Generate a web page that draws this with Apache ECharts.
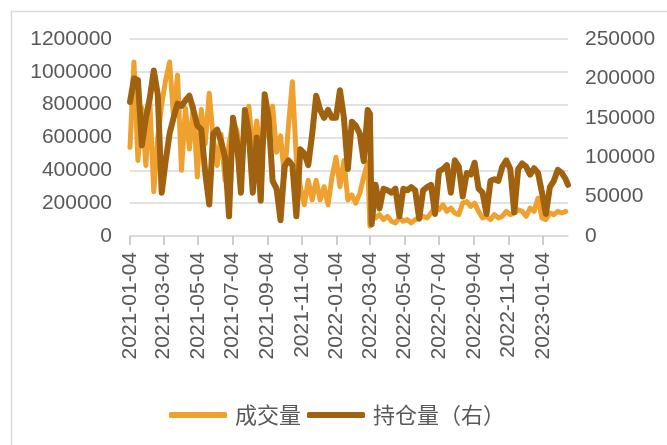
<!DOCTYPE html>
<html>
<head>
<meta charset="utf-8">
<script src="https://cdn.jsdelivr.net/npm/echarts@6/dist/echarts.min.js"></script>
<style>
html,body{margin:0;padding:0;background:#fff;}
#chart{width:667px;height:445px;}
</style>
</head>
<body>
<div id="chart"></div>
<script>
// Axis range and tick labels
const axisStart = '2021-01-04';
const axisEnd = '2023-02-17';
const tickLabels = ['2021-01-04','2021-03-04','2021-05-04','2021-07-04','2021-09-04','2021-11-04',
  '2022-01-04','2022-03-04','2022-05-04','2022-07-04','2022-09-04','2022-11-04','2023-01-04'];

// Sample dates
const sampleDates = [
 '2021-01-04','2021-01-11','2021-01-18','2021-01-25','2021-02-01','2021-02-08','2021-02-15','2021-02-22',
 '2021-03-01','2021-03-08','2021-03-15','2021-03-22','2021-03-29','2021-04-05','2021-04-12','2021-04-19',
 '2021-04-26','2021-05-03','2021-05-10','2021-05-17','2021-05-24','2021-05-31','2021-06-07','2021-06-14',
 '2021-06-21','2021-06-28','2021-07-05','2021-07-12','2021-07-19','2021-07-26','2021-08-02','2021-08-09',
 '2021-08-16','2021-08-23','2021-08-30','2021-09-06','2021-09-13','2021-09-20','2021-09-27','2021-10-04',
 '2021-10-11','2021-10-18','2021-10-25','2021-11-01','2021-11-08','2021-11-15','2021-11-22','2021-11-29',
 '2021-12-06','2021-12-13','2021-12-20','2021-12-27',
 '2022-01-03','2022-01-10','2022-01-17','2022-01-24','2022-01-31','2022-02-07','2022-02-14','2022-02-21',
 '2022-02-28','2022-03-04','2022-03-07','2022-03-14','2022-03-21','2022-03-28','2022-04-04','2022-04-11',
 '2022-04-18','2022-04-25','2022-05-02','2022-05-09','2022-05-16','2022-05-23','2022-05-30','2022-06-06',
 '2022-06-13','2022-06-20','2022-06-27','2022-07-04','2022-07-11','2022-07-18','2022-07-25','2022-08-01',
 '2022-08-08','2022-08-15','2022-08-22','2022-08-29','2022-09-05','2022-09-12','2022-09-19','2022-09-26',
 '2022-10-03','2022-10-10','2022-10-17','2022-10-24','2022-10-31','2022-11-07','2022-11-14','2022-11-21',
 '2022-11-28','2022-12-05','2022-12-12','2022-12-19','2022-12-26',
 '2023-01-02','2023-01-09','2023-01-16','2023-01-23','2023-01-30','2023-02-06','2023-02-13','2023-02-17'
];

// 成交量 (left axis)
const volume = [
 540000,1060000,460000,780000,430000,820000,270000,600000,
 800000,950000,1060000,720000,980000,400000,780000,530000,
 790000,360000,770000,560000,870000,600000,430000,620000,
 340000,560000,700000,640000,470000,620000,790000,520000,
 700000,490000,620000,680000,790000,510000,610000,360000,
 670000,940000,470000,300000,190000,340000,220000,340000,
 220000,300000,190000,360000,
 480000,300000,460000,220000,250000,200000,260000,360000,
 450000,60000,140000,110000,130000,100000,120000,90000,
 80000,110000,90000,100000,80000,100000,110000,120000,
 110000,140000,180000,160000,190000,150000,170000,140000,
 130000,200000,210000,180000,200000,150000,110000,120000,
 100000,130000,110000,120000,150000,130000,140000,160000,
 150000,120000,170000,150000,230000,
 110000,100000,140000,130000,150000,140000,150000
];

// 持仓量（右） (right axis)
const openInterest = [
 170000,200000,198000,115000,150000,175000,210000,180000,
 55000,95000,130000,150000,168000,165000,172000,178000,
 160000,140000,135000,80000,40000,130000,135000,120000,
 100000,25000,150000,120000,55000,160000,130000,55000,
 125000,45000,180000,150000,70000,60000,20000,88000,
 96000,90000,25000,110000,105000,90000,130000,178000,
 160000,150000,160000,150000,
 150000,185000,150000,85000,145000,140000,130000,95000,
 160000,155000,15000,65000,35000,60000,58000,55000,
 60000,25000,60000,58000,62000,58000,22000,58000,
 62000,65000,28000,82000,85000,90000,55000,96000,
 88000,50000,80000,78000,93000,60000,55000,28000,
 70000,72000,70000,88000,96000,85000,30000,85000,
 92000,88000,78000,86000,80000,
 55000,28000,62000,70000,84000,80000,72000,65000
];

// Calendar-day category axis
const allDays = [];
(function(){
  const d = new Date(axisStart + 'T00:00:00Z');
  const end = new Date(axisEnd + 'T00:00:00Z');
  while (d <= end) { allDays.push(d.toISOString().slice(0,10)); d.setUTCDate(d.getUTCDate()+1); }
})();
const dayIndex = {};
allDays.forEach((s,i)=>{dayIndex[s]=i;});
const pairs = arr => sampleDates.map((s,i)=>[dayIndex[s], arr[i]]);
const isTick = (idx, val) => tickLabels.indexOf(val) >= 0;

const textColor = '#595959';
const gridColor = '#d9d9d9';
const lightColor = '#EFA12F';
const darkColor = '#A0620E';
const plain = v => String(v);

const chart = echarts.init(document.getElementById('chart'));
chart.setOption({
  animation: false,
  backgroundColor: '#ffffff',
  graphic: [{
    type: 'rect', left: 9, top: 9, shape: {width: 700, height: 500},
    style: {fill: 'none', stroke: '#d9d9d9', lineWidth: 1.5}, silent: true, z: -1
  }],
  grid: {left: 130, right: 99, top: 39, bottom: 209, containLabel: false},
  legend: {
    left: 164, top: 399,
    itemWidth: 58, itemHeight: 6, itemGap: 6,
    icon: 'roundRect',
    textStyle: {fontFamily: 'Noto Sans CJK SC', fontSize: 22, color: textColor, padding: [0,0,0,3]},
    data: ['成交量', '持仓量（右）']
  },
  xAxis: {
    type: 'category', data: allDays, boundaryGap: false,
    axisLine: {lineStyle: {color: gridColor, width: 1.5}},
    axisTick: {show: true, interval: isTick, length: 9, lineStyle: {color: '#bfbfbf', width: 1.5}},
    axisLabel: {interval: isTick, rotate: 90, margin: 16, color: textColor,
      fontFamily: 'Liberation Sans', fontSize: 21},
    splitLine: {show: false}
  },
  yAxis: [{
    type: 'value', min: 0, max: 1200000, interval: 200000,
    axisLine: {show: false}, axisTick: {show: false},
    axisLabel: {color: textColor, fontFamily: 'Liberation Sans', fontSize: 21, margin: 18, formatter: plain},
    splitLine: {lineStyle: {color: gridColor, width: 1.5}}
  }, {
    type: 'value', min: 0, max: 250000, interval: 50000,
    axisLine: {show: false}, axisTick: {show: false},
    axisLabel: {color: textColor, fontFamily: 'Liberation Sans', fontSize: 21, margin: 17, formatter: plain},
    splitLine: {show: false}
  }],
  series: [{
    name: '成交量', type: 'line', yAxisIndex: 0, data: pairs(volume),
    showSymbol: false, symbol: 'none', color: lightColor,
    lineStyle: {color: lightColor, width: 5, join: 'round', cap: 'round'}, z: 2
  }, {
    name: '持仓量（右）', type: 'line', yAxisIndex: 1, data: pairs(openInterest),
    showSymbol: false, symbol: 'none', color: darkColor,
    lineStyle: {color: darkColor, width: 6, join: 'round', cap: 'round'}, z: 3
  }]
});
</script>
</body>
</html>
